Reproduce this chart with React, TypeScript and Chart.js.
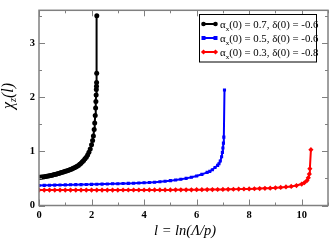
import React, { useEffect, useRef } from "react";
import { Chart, registerables } from "chart.js";

Chart.register(...registerables);

// ---- data ----
const blackL = [0, 0.05, 0.1, 0.15, 0.2, 0.25, 0.3, 0.35, 0.4, 0.45, 0.5, 0.55, 0.6, 0.65, 0.7, 0.75, 0.8, 0.85, 0.9, 0.95, 1.0, 1.05, 1.1, 1.15, 1.2, 1.25, 1.3, 1.35, 1.4, 1.45, 1.5, 1.55, 1.6, 1.65, 1.7, 1.75, 1.8, 1.85, 1.9, 1.95, 2.0, 2.04, 2.07, 2.1, 2.12, 2.14, 2.155, 2.165, 2.175, 2.182, 2.188, 2.192, 2.196, 2.2];
const blackChi = [0.52, 0.522, 0.525, 0.527, 0.53, 0.535, 0.54, 0.545, 0.55, 0.555, 0.56, 0.565, 0.57, 0.577, 0.585, 0.592, 0.6, 0.607, 0.615, 0.622, 0.63, 0.637, 0.645, 0.655, 0.665, 0.675, 0.685, 0.697, 0.71, 0.725, 0.74, 0.76, 0.78, 0.805, 0.83, 0.86, 0.89, 0.93, 0.98, 1.04, 1.12, 1.2, 1.28, 1.4, 1.52, 1.66, 1.8, 1.92, 2.04, 2.14, 2.2, 2.27, 2.44, 3.5];

const blueL = [0, 0.2, 0.4, 0.6, 0.8, 1.0, 1.2, 1.4, 1.6, 1.8, 2.0, 2.2, 2.4, 2.6, 2.8, 3.0, 3.2, 3.4, 3.6, 3.8, 4.0, 4.2, 4.4, 4.6, 4.8, 5.0, 5.2, 5.4, 5.6, 5.8, 6.0, 6.2, 6.4, 6.5, 6.6, 6.7, 6.8, 6.85, 6.9, 6.95, 6.98, 7.0, 7.02, 7.035, 7.06];
const blueChi = [0.37, 0.372, 0.374, 0.376, 0.378, 0.38, 0.382, 0.384, 0.386, 0.388, 0.39, 0.392, 0.395, 0.397, 0.4, 0.402, 0.405, 0.408, 0.411, 0.415, 0.419, 0.423, 0.43, 0.437, 0.447, 0.458, 0.47, 0.485, 0.5, 0.52, 0.545, 0.575, 0.61, 0.63, 0.66, 0.7, 0.74, 0.77, 0.82, 0.9, 0.98, 1.06, 1.15, 1.26, 2.13];

const redL = [0, 0.2, 0.4, 0.6, 0.8, 1.0, 1.2, 1.4, 1.6, 1.8, 2.0, 2.2, 2.4, 2.6, 2.8, 3.0, 3.2, 3.4, 3.6, 3.8, 4.0, 4.2, 4.4, 4.6, 4.8, 5.0, 5.2, 5.4, 5.6, 5.8, 6.0, 6.2, 6.4, 6.6, 6.8, 7.0, 7.2, 7.4, 7.6, 7.8, 8.0, 8.2, 8.4, 8.6, 8.8, 9.0, 9.2, 9.4, 9.6, 9.8, 10.0, 10.1, 10.2, 10.25, 10.29, 10.31, 10.35];
const redChi = [0.285, 0.285, 0.285, 0.285, 0.285, 0.285, 0.285, 0.285, 0.285, 0.285, 0.285, 0.285, 0.285, 0.285, 0.285, 0.285, 0.286, 0.286, 0.286, 0.286, 0.286, 0.287, 0.287, 0.287, 0.288, 0.288, 0.289, 0.289, 0.29, 0.29, 0.291, 0.292, 0.293, 0.294, 0.295, 0.296, 0.298, 0.3, 0.302, 0.304, 0.306, 0.309, 0.312, 0.316, 0.32, 0.326, 0.333, 0.342, 0.352, 0.368, 0.395, 0.42, 0.46, 0.51, 0.58, 0.68, 1.03];

const legendAlpha = ["0.7", "0.5", "0.3"];
const legendDelta = ["-0.6", "-0.6", "-0.8"];
const seriesColors = ["#000000", "#0000ff", "#ff0000"];
const seriesShapes = ["circle", "rect", "rectRot"];

const xMajorTicks = [0, 2, 4, 6, 8, 10];
const xMinorTicks = [1, 3, 5, 7, 9, 11];
const yMajorTicks = [0, 1, 2, 3];
const yMinorTicks = [0.5, 1.5, 2.5, 3.5];

const toPoints = (xs: number[], ys: number[]) => xs.map((x, i) => ({ x, y: ys[i] }));

const SERIF = '"Liberation Serif", "DejaVu Serif", serif';

function drawMarker(ctx: CanvasRenderingContext2D, shape: string, x: number, y: number, color: string) {
  ctx.fillStyle = color;
  ctx.beginPath();
  if (shape === "circle") {
    ctx.arc(x, y, 2.3, 0, Math.PI * 2);
  } else if (shape === "rect") {
    ctx.rect(x - 2, y - 2, 4, 4);
  } else {
    ctx.moveTo(x, y - 2.6);
    ctx.lineTo(x + 2.6, y);
    ctx.lineTo(x, y + 2.6);
    ctx.lineTo(x - 2.6, y);
    ctx.closePath();
  }
  ctx.fill();
}

const framePlugin = {
  id: "frameAndDecor",
  afterDraw(chart: any) {
    const ctx: CanvasRenderingContext2D = chart.ctx;
    const { left, right, top, bottom } = chart.chartArea;
    const xs = chart.scales.x;
    const ys = chart.scales.y;
    ctx.save();
    ctx.strokeStyle = "#808080";
    ctx.lineWidth = 1.5;
    ctx.strokeRect(left, top, right - left, bottom - top);
    ctx.lineWidth = 1;
    ctx.beginPath();
    const tick = (v: number, len: number, axis: "x" | "y") => {
      if (axis === "x") {
        const p = Math.round(xs.getPixelForValue(v)) + 0.5;
        ctx.moveTo(p, bottom);
        ctx.lineTo(p, bottom - len);
        ctx.moveTo(p, top);
        ctx.lineTo(p, top + len);
      } else {
        const p = Math.round(ys.getPixelForValue(v)) + 0.5;
        ctx.moveTo(left, p);
        ctx.lineTo(left + len, p);
        ctx.moveTo(right, p);
        ctx.lineTo(right - len, p);
      }
    };
    xMajorTicks.forEach((v) => tick(v, 6, "x"));
    xMinorTicks.forEach((v) => tick(v, 3, "x"));
    yMajorTicks.forEach((v) => tick(v, 6, "y"));
    yMinorTicks.forEach((v) => tick(v, 3, "y"));
    ctx.stroke();

    // legend
    ctx.fillStyle = "#ffffff";
    ctx.fillRect(199.5, 14.5, 117, 47.5);
    ctx.strokeStyle = "#000000";
    ctx.lineWidth = 1;
    ctx.strokeRect(199.5, 14.5, 117, 47.5);
    const rowY = [24, 38, 52];
    legendAlpha.forEach((a, i) => {
      const y = rowY[i];
      const c = seriesColors[i];
      ctx.strokeStyle = c;
      ctx.lineWidth = 2;
      ctx.beginPath();
      ctx.moveTo(203, y);
      ctx.lineTo(216, y);
      ctx.stroke();
      drawMarker(ctx, seriesShapes[i], 203.5, y, c);
      drawMarker(ctx, seriesShapes[i], 215.5, y, c);
      ctx.fillStyle = "#000000";
      ctx.textBaseline = "alphabetic";
      ctx.textAlign = "left";
      let x = 220;
      const base = y + 3.5;
      ctx.font = `10.8px ${SERIF}`;
      ctx.fillText("\u03b1", x, base);
      x += ctx.measureText("\u03b1").width;
      ctx.font = `7px ${SERIF}`;
      ctx.fillText("x", x, base + 3);
      x += ctx.measureText("x").width;
      ctx.font = `10.8px ${SERIF}`;
      ctx.fillText(`(0) = ${a}, \u03b4(0) = ${legendDelta[i]}`, x, base);
    });

    // x title
    ctx.fillStyle = "#000000";
    ctx.font = `italic 14.5px ${SERIF}`;
    ctx.textAlign = "center";
    ctx.textBaseline = "alphabetic";
    ctx.fillText("l = ln(\u039b/p)", 185, 235);

    // y title
    ctx.translate(13, 96);
    ctx.rotate(-Math.PI / 2);
    ctx.textAlign = "left";
    ctx.font = `italic 16px ${SERIF}`;
    const w1 = ctx.measureText("\u03c7").width;
    ctx.font = `italic 10px ${SERIF}`;
    const w2 = ctx.measureText("z").width;
    ctx.font = `italic 16px ${SERIF}`;
    const w3 = ctx.measureText("(l)").width;
    let sx = -(w1 + w2 + w3) / 2;
    ctx.fillText("\u03c7", sx, 0);
    sx += w1;
    ctx.font = `italic 10px ${SERIF}`;
    ctx.fillText("z", sx, 3);
    sx += w2;
    ctx.font = `italic 16px ${SERIF}`;
    ctx.fillText("(l)", sx, 0);
    ctx.restore();
  },
};

export default function App() {
  const ref = useRef<HTMLCanvasElement | null>(null);
  useEffect(() => {
    if (!ref.current) return;
    const mk = (xs: number[], ys: number[], i: number) => ({
      data: toPoints(xs, ys),
      showLine: true,
      borderColor: seriesColors[i],
      backgroundColor: seriesColors[i],
      borderWidth: 2,
      pointStyle: seriesShapes[i],
      pointRadius: i === 2 ? 2.6 : i === 0 ? 2.5 : 2.2,
      pointBorderWidth: 0,
      pointBackgroundColor: seriesColors[i],
      tension: 0,
    });
    const chart = new Chart(ref.current, {
      type: "scatter",
      data: {
        datasets: [mk(redL, redChi, 2), mk(blueL, blueChi, 1), mk(blackL, blackChi, 0)],
      },
      options: {
        responsive: false,
        animation: false,
        devicePixelRatio: 1,
        layout: { padding: { left: 0, top: 1, right: 1, bottom: 0 } },
        plugins: { legend: { display: false }, tooltip: { enabled: false } },
        scales: {
          x: {
            type: "linear",
            min: 0,
            max: 11,
            afterFit: (s: any) => { s.height = 37.5; },
            afterBuildTicks: (s: any) => { s.ticks = xMajorTicks.map((v) => ({ value: v })); },
            grid: { display: false, drawTicks: false },
            border: { display: false },
            ticks: { padding: 3, color: "#000", font: { family: SERIF, size: 10.5, weight: "bold" } },
          },
          y: {
            type: "linear",
            min: 0,
            max: 3.6,
            afterFit: (s: any) => { s.width = 39; },
            afterBuildTicks: (s: any) => { s.ticks = yMajorTicks.map((v) => ({ value: v })); },
            grid: { display: false, drawTicks: false },
            border: { display: false },
            ticks: { padding: 4, color: "#000", font: { family: SERIF, size: 10.5, weight: "bold" } },
          },
        },
      },
      plugins: [framePlugin],
    } as any);
    return () => chart.destroy();
  }, []);
  return (
    <div style={{ position: "absolute", left: 0, top: 0, width: 332, height: 243, background: "#fff" }}>
      <canvas ref={ref} width={332} height={243} style={{ display: "block" }} />
    </div>
  );
}
